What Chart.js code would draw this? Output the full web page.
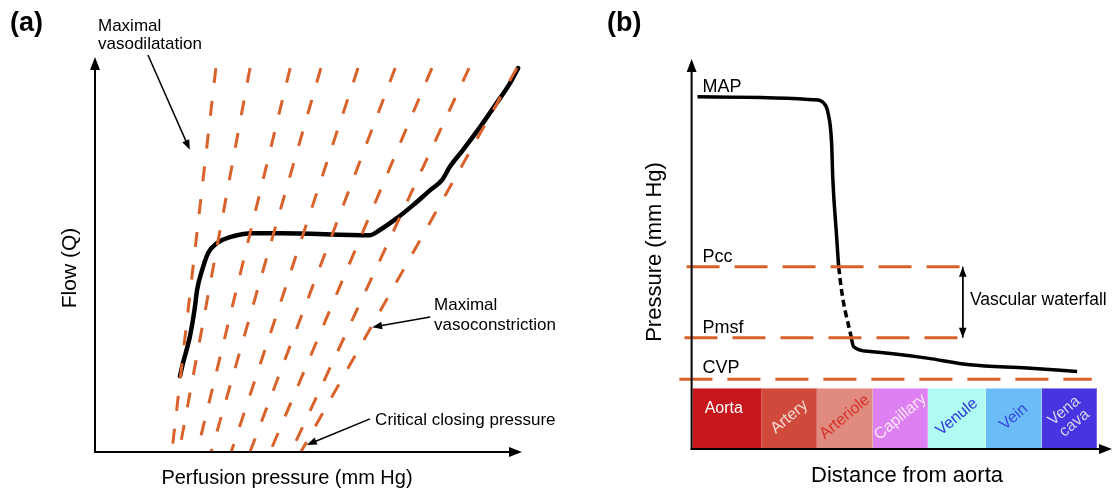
<!DOCTYPE html>
<html>
<head>
<meta charset="utf-8">
<script src="https://cdn.jsdelivr.net/npm/chart.js@4.4.1/dist/chart.umd.min.js"></script>
<style>
  html, body { margin: 0; padding: 0; background: #fff; }
  body { width: 1114px; height: 496px; position: relative; overflow: hidden; }
  .panel { position: absolute; top: 0; width: 557px; height: 496px; }
  #panelA { left: 0; }
  #panelB { left: 557px; }
</style>
</head>
<body>
<div class="panel" id="panelA"><canvas id="chartA"></canvas></div>
<div class="panel" id="panelB"><canvas id="chartB"></canvas></div>
<script>
// Panel (a): flujo vs presión de perfusión (unidades arbitrarias 0-100)
const dilatacionBase = [18.0, 19.7, 23.9, 27.2, 31.9, 36.3, 41.0, 45.9, 48.2];
const dilatacionTope = [28.3, 36.3, 45.7, 52.9, 61.6, 70.3, 78.9, 87.6, 98.8];
const flujoTope = 97.2;
const presionPerfusion = [19.9, 20.6, 22.2, 23.4, 23.9, 25.1, 26.5, 28.6, 31.6, 37.0, 43.3, 64.4, 66.7, 70.7, 74.5, 78.5, 81.3, 83.1, 86.2, 90.2, 94.1, 97.2, 99.1];
const flujo = [19.2, 22.5, 29.1, 36.7, 41.0, 46.1, 50.4, 52.9, 54.4, 55.4, 55.4, 54.9, 56.2, 59.2, 62.5, 66.3, 68.9, 72.2, 76.5, 82.3, 88.4, 93.4, 97.2];

// Panel (b): presión vs distancia desde la aorta
const distancia = [1.4, 30.0, 31.4, 32.4, 33.3, 33.6, 34.5, 35.0, 38.0, 38.5, 42.4, 47.9, 56.0, 66.2, 79.8, 91.7];
const presion = [90.3, 89.5, 88.7, 86.4, 78.5, 69.0, 54.4, 46.7, 28.5, 26.3, 25.0, 24.4, 23.3, 21.6, 20.8, 19.9];
const niveles = ['Pcc', 'Pmsf', 'CVP'];
const nivelValor = [46.7, 28.5, 17.9];
const nivelInicio = [-1.2, -1.7, -2.9];
const nivelFin = [64.3, 64.0, 95.2];
const vasos = ['Aorta', 'Artery', 'Arteriole', 'Capillary', 'Venule', 'Vein', 'Vena\ncava'];
const limitesVasos = [0.2, 16.7, 29.8, 43.1, 56.2, 70.0, 83.3, 96.4];
const barraTope = 15.4;
const coloresVasos = ['#c8161d', '#d04a3c', '#e08b7f', '#de80f2', '#b0fbf4', '#6cbcf7', '#4834e0'];
const coloresTexto = ['#ffffff', '#f6dcd4', '#d8312a', '#fbe8fb', '#2c36d6', '#3646e4', '#d4d4ee'];

const FUENTE = '"Liberation Sans", Arial, Helvetica, sans-serif';
const NARANJA = '#d9622b';
Chart.defaults.font.family = FUENTE;

function flecha(ctx, x1, y1, x2, y2, punta, ancho) {
    const ang = Math.atan2(y2 - y1, x2 - x1);
    const c = Math.cos(ang), s = Math.sin(ang);
    ctx.lineWidth = ancho;
    ctx.beginPath();
    ctx.moveTo(x1, y1);
    ctx.lineTo(x2 - c * punta * 0.7, y2 - s * punta * 0.7);
    ctx.stroke();
    ctx.beginPath();
    ctx.moveTo(x2, y2);
    ctx.lineTo(x2 - punta * c + punta * 0.38 * s, y2 - punta * s - punta * 0.38 * c);
    ctx.lineTo(x2 - punta * c - punta * 0.38 * s, y2 - punta * s + punta * 0.38 * c);
    ctx.closePath();
    ctx.fill();
}

// Ejes con flecha, anotaciones y textos
const esquema = {
    id: 'esquema',
    afterDatasetsDraw(chart, args, opts) {
        const { ctx, scales: { x, y } } = chart;
        ctx.save();
        ctx.strokeStyle = '#000';
        ctx.fillStyle = '#000';
        const x0 = x.getPixelForValue(0), y0 = y.getPixelForValue(0);
        flecha(ctx, x0, y0 + 1, x0, y.getPixelForValue(100), 13, 2);
        flecha(ctx, x0 - 1, y0, x.getPixelForValue(100), y0, 13, 2);

        (opts.flechas || []).forEach(f => {
            const a = [x.getPixelForValue(f[0]), y.getPixelForValue(f[1])];
            const b = [x.getPixelForValue(f[2]), y.getPixelForValue(f[3])];
            if (f[4]) flecha(ctx, b[0], b[1], a[0], a[1], 10, 1.5);
            flecha(ctx, a[0], a[1], b[0], b[1], 10, 1.5);
        });

        (opts.textos || []).forEach(t => {
            const px = t.px !== undefined ? t.px : x.getPixelForValue(t.x);
            const py = t.py !== undefined ? t.py : y.getPixelForValue(t.y);
            ctx.font = (t.bold ? 'bold ' : '') + t.size + 'px ' + FUENTE;
            ctx.fillStyle = t.color || '#000';
            ctx.textAlign = t.align || 'left';
            ctx.textBaseline = 'middle';
            ctx.save();
            ctx.translate(px, py);
            ctx.rotate((t.rot || 0) * Math.PI / 180);
            const lineas = t.text.split('\n');
            const lh = t.lh || t.size * 1.15;
            lineas.forEach((l, i) => ctx.fillText(l, 0, (i - (lineas.length - 1) / 2) * lh));
            ctx.restore();
        });
        ctx.restore();
    }
};

function opcionesBase(xMin, padding, plugin) {
    return {
        responsive: true,
        maintainAspectRatio: false,
        animation: false,
        layout: { padding: padding },
        scales: {
            x: { type: 'linear', min: xMin, max: 100, display: false },
            y: { type: 'linear', min: 0, max: 100, display: false }
        },
        plugins: { legend: { display: false }, tooltip: { enabled: false }, esquema: plugin },
        elements: { point: { radius: 0 } }
    };
}

// ----- Panel (a)
const lineasA = dilatacionBase.map((b, i) => ({
    data: [{ x: dilatacionTope[i], y: flujoTope }, { x: b, y: 0 }],
    borderColor: NARANJA,
    borderWidth: 3,
    borderDash: [15, 18],
    pointRadius: 0,
    clip: false
}));

new Chart(document.getElementById('chartA').getContext('2d'), {
    type: 'line',
    data: {
        datasets: [...lineasA, {
            data: presionPerfusion.map((p, i) => ({ x: p, y: flujo[i] })),
            borderColor: '#000',
            borderWidth: 4.5,
            borderCapStyle: 'round',
            cubicInterpolationMode: 'monotone',
            pointRadius: 0,
            clip: false
        }]
    },
    options: opcionesBase(0, { left: 95, top: 57, right: 35, bottom: 44 }, {
        flechas: [[12.4, 100.5, 22.2, 76.5], [78.5, 34.2, 64.9, 31.6], [64.4, 8.4, 49.6, 1.8]],
        textos: [
            { text: '(a)', px: 10, py: 24, size: 27, bold: true },
            { text: 'Flow (Q)', px: 70, py: 268, size: 21, rot: -90, align: 'center' },
            { text: 'Perfusion pressure (mm Hg)', px: 287, py: 478, size: 20, align: 'center' },
            { text: 'Maximal\nvasodilatation', x: 0.7, y: 105.5, size: 17, lh: 18 },
            { text: 'Maximal\nvasoconstriction', x: 79.4, y: 34.7, size: 17, lh: 20 },
            { text: 'Critical closing pressure', x: 65.6, y: 8.1, size: 17 }
        ]
    }),
    plugins: [esquema]
});

// ----- Panel (b)
const lineasB = niveles.map((n, i) => ({
    data: [{ x: nivelInicio[i], y: nivelValor[i] }, { x: nivelFin[i], y: nivelValor[i] }],
    borderColor: NARANJA,
    borderWidth: 3,
    borderDash: [33, 15],
    pointRadius: 0,
    clip: false
}));

const PCC = nivelValor[0], PMSF = nivelValor[1];
const curvaB = {
    data: distancia.map((d, i) => ({ x: d, y: presion[i] })),
    borderColor: '#000',
    borderWidth: 3.5,
    borderCapStyle: 'butt',
    cubicInterpolationMode: 'monotone',
    pointRadius: 0,
    clip: false,
    segment: {
        borderDash: c => (c.p0.parsed.y <= PCC + 0.01 && c.p1.parsed.y >= PMSF - 0.01) ? [7, 4] : undefined
    }
};

const barrasB = vasos.map((v, i) => ({
    data: [{ x: limitesVasos[i], y: barraTope }, { x: limitesVasos[i + 1], y: barraTope }],
    borderColor: coloresVasos[i],
    borderWidth: 1,
    backgroundColor: coloresVasos[i],
    fill: { value: 0 },
    pointRadius: 0,
    clip: false
}));

const textosVasos = vasos.map((v, i) => ({
    text: v,
    x: (limitesVasos[i] + limitesVasos[i + 1]) / 2 + (i === 0 ? -0.8 : 0),
    y: i === 0 ? 10.3 : 8.2,
    size: 16,
    lh: 16,
    rot: i === 0 ? 0 : -40,
    align: 'center',
    color: coloresTexto[i]
}));

new Chart(document.getElementById('chartB').getContext('2d'), {
    type: 'line',
    data: { datasets: [...lineasB, curvaB, ...barrasB] },
    options: opcionesBase(-3, { left: 122, top: 59, right: 2, bottom: 47 }, {
        flechas: [[64.5, PCC, 64.5, PMSF, true]],
        textos: [
            { text: '(b)', px: 50, py: 24, size: 27, bold: true },
            { text: 'Pressure (mm Hg)', px: 98, py: 252, size: 22, rot: -90, align: 'center' },
            { text: 'Distance from aorta', px: 350, py: 476, size: 22, align: 'center' },
            { text: 'MAP', x: 2.6, y: 92.8, size: 18 },
            { text: niveles[0], x: 2.6, y: 49.2, size: 18 },
            { text: niveles[1], x: 2.6, y: 31.0, size: 18 },
            { text: niveles[2], x: 2.6, y: 20.8, size: 18 },
            { text: 'Vascular waterfall', x: 66.2, y: 38.2, size: 17.5 },
            ...textosVasos
        ]
    }),
    plugins: [esquema]
});
</script>
</body>
</html>
